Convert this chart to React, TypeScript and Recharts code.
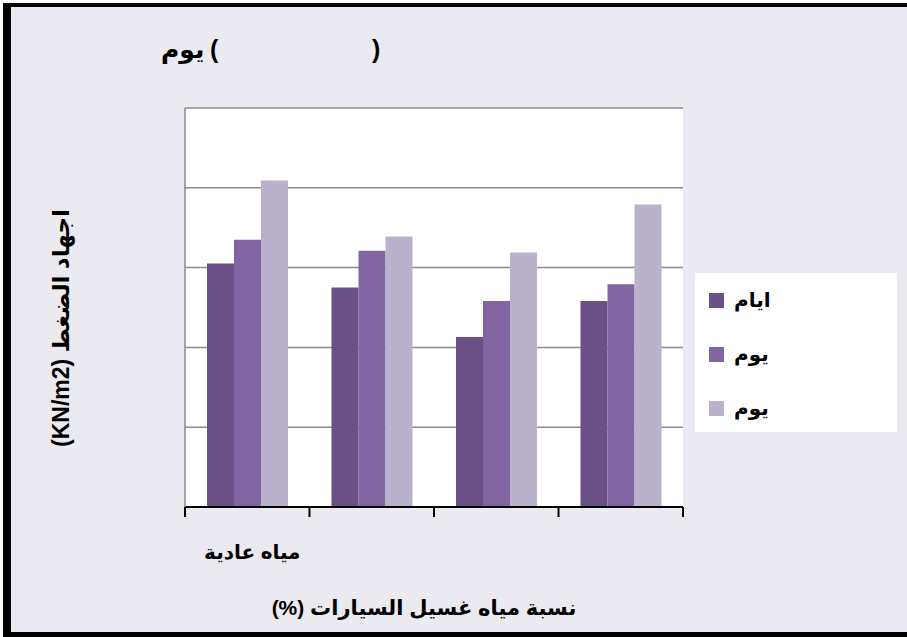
import React from 'react';
import { BarChart, Bar, XAxis, YAxis, CartesianGrid, Legend } from 'recharts';

const categories = ['مياه عادية', '', '', ''];
const seriesNames = ['ايام', 'يوم', 'يوم'];
const series1 = [30.5, 27.5, 21.3, 25.8];
const series2 = [33.5, 32.1, 25.8, 27.9];
const series3 = [40.9, 33.9, 31.9, 37.9];
const yTicks = [0, 10, 20, 30, 40, 50];

const colors = ['#695186', '#8065A1', '#BAB1CC'];
const FONT = "Arial, 'DejaVu Sans', sans-serif";

const data = categories.map((name, i) => ({
  name,
  s1: series1[i],
  s2: series2[i],
  s3: series3[i],
}));

const NoTick = () => <g />;

// category tick: label under the bar group plus tick marks on the group boundaries
const CategoryTick = ({ x, y, payload, index, visibleTicksCount }: any) => {
  const half = payload.offset || 0;
  const isLast = index === visibleTicksCount - 1;
  return (
    <g>
      <line x1={x - half} y1={y - 6} x2={x - half} y2={y + 4} stroke="#000" strokeWidth={2} />
      {isLast && <line x1={x + half} y1={y - 6} x2={x + half} y2={y + 4} stroke="#000" strokeWidth={2} />}
      <text x={x + 5} y={y + 46} textAnchor="middle" direction="rtl" fontFamily={FONT} fontWeight="bold" fontSize={20} fill="#000">
        {payload.value}
      </text>
    </g>
  );
};

const renderLegend = ({ payload }: any) => (
  <div style={{ position: 'relative', width: 202, height: 159, background: '#fff' }}>
    {(payload || []).map((entry: any, i: number) => (
      <div
        key={i}
        style={{ position: 'absolute', left: 14, top: 15 + i * 54, display: 'flex', alignItems: 'center', height: 24 }}
      >
        <span style={{ width: 15, height: 15, background: entry.color, display: 'inline-block' }} />
        <span style={{ marginLeft: 10, fontFamily: FONT, fontWeight: 'bold', fontSize: 20, color: '#000' }}>
          {entry.value}
        </span>
      </div>
    ))}
  </div>
);

export default function App() {
  return (
    <div style={{ position: 'absolute', left: 0, top: 0, width: 907, height: 637, background: '#fff' }}>
      <div
        style={{
          position: 'absolute',
          left: 3,
          top: 3,
          right: 0,
          bottom: 0,
          boxSizing: 'border-box',
          borderLeft: '8px solid #000',
          borderTop: '4px solid #000',
          borderBottom: '5px solid #000',
          background: '#EBEAF0',
        }}
      />
      <div style={{ position: 'absolute', left: 0, top: 0, width: 907, height: 637, fontFamily: FONT, fontWeight: 'bold', fontSize: 25 }}>
        <span style={{ position: 'absolute', left: 161, top: 35 }}>يوم</span>
        <span style={{ position: 'absolute', left: 210, top: 35 }}>(</span>
        <span style={{ position: 'absolute', left: 372, top: 35 }}>)</span>
      </div>
      <BarChart
        width={907}
        height={637}
        data={data}
        margin={{ top: 108, right: 224, bottom: 129, left: 184 }}
        barGap={0}
        barSize={27}
        style={{ position: 'absolute', left: 0, top: 0 }}
      >
        <CartesianGrid vertical={false} stroke="#8a8a8a" strokeWidth={1.5} fill="#fff" />
        <XAxis
          dataKey="name"
          height={1}
          axisLine={{ stroke: '#000', strokeWidth: 2 }}
          tickLine={false}
          tickMargin={0}
          tick={<CategoryTick />}
          interval={0}
          label={{
            content: () => (
              <text x={424} y={615} textAnchor="middle" direction="rtl" fontFamily={FONT} fontWeight="bold" fontSize={21} fill="#000">
                نسبة مياه غسيل السيارات (%)
              </text>
            ),
          }}
        />
        <YAxis
          width={1}
          domain={[0, 50]}
          ticks={yTicks}
          tick={NoTick}
          tickLine={false}
          axisLine={{ stroke: '#8a8a8a', strokeWidth: 1.5 }}
          label={{
            content: () => (
              <text
                x={69}
                y={328}
                textAnchor="middle"
                direction="rtl"
                transform="rotate(-90 69 328)"
                fontFamily={FONT}
                fontWeight="bold"
                fontSize={23}
                fill="#000"
              >
                اجهاد الضغط (KN/m2)
              </text>
            ),
          }}
        />
        <Legend
          layout="horizontal"
          align="center"
          verticalAlign="middle"
          content={renderLegend}
          wrapperStyle={{ position: 'absolute', left: 695, top: 273, width: 202, height: 159 }}
        />
        <Bar dataKey="s1" name={seriesNames[0]} fill={colors[0]} isAnimationActive={false} />
        <Bar dataKey="s2" name={seriesNames[1]} fill={colors[1]} isAnimationActive={false} />
        <Bar dataKey="s3" name={seriesNames[2]} fill={colors[2]} isAnimationActive={false} />
      </BarChart>
    </div>
  );
}
